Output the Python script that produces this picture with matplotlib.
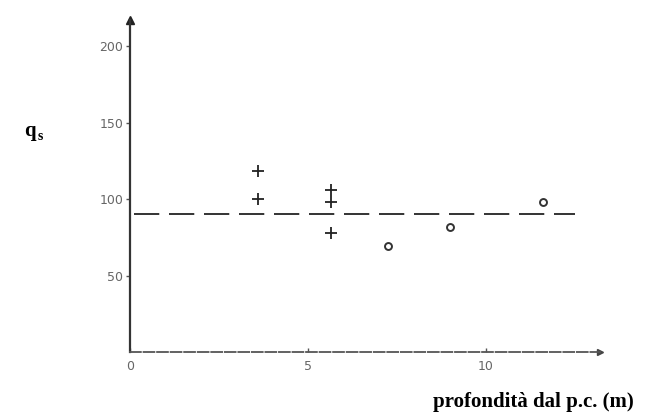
import matplotlib.pyplot as plt

# valori
plus_x = [3.6, 3.6, 5.65, 5.65, 5.65]
plus_y = [118, 100, 106, 98, 78]
circ_x = [7.25, 9.0, 11.6]
circ_y = [69, 82, 98]
mean_q = 90
mean_x = [0.1, 12.5]
yticks = [50, 100, 150, 200]
xticks = [0, 5, 10]

fig = plt.figure(figsize=(6.54, 4.16), dpi=100)
ax = fig.add_axes([130/654, 64/416, 470/654, 332/416])
ax.set_xlim(0, 13.2)
ax.set_ylim(0, 217)

for s in ['top', 'right']:
	ax.spines[s].set_visible(False)
ax.spines['left'].set_color('#333333')
ax.spines['left'].set_linewidth(1.6)
ax.spines['bottom'].set_color('#555555')
ax.spines['bottom'].set_linewidth(1.3)
ax.spines['bottom'].set_linestyle((0, (6, 1.5)))

# frecce sugli assi
ax.plot(0, 1, '^', color='#222222', ms=6, transform=ax.transAxes, clip_on=False)
ax.plot(1, 0, '>', color='#444444', ms=5, transform=ax.transAxes, clip_on=False)

ax.plot(mean_x, [mean_q, mean_q], color='#333333', lw=1.4, dashes=(13, 5))
ax.plot(plus_x, plus_y, '+', color='#222222', ms=8, mew=1.3, linestyle='none')
ax.plot(circ_x, circ_y, 'o', mfc='none', mec='#333333', ms=5, mew=1.4, linestyle='none')

ax.set_yticks(yticks)
ax.set_xticks(xticks)
ax.tick_params(axis='both', length=3, width=1, color='#555555', labelcolor='#666666',
			   labelsize=9, pad=2)
ax.tick_params(axis='x', direction='in', pad=6)

# etichette degli assi
fig.text(30/654, 1 - 131/416, 'q', fontsize=15, fontweight='bold',
		 family='Liberation Serif', ha='center', va='center')
fig.text(40/654, 1 - 137/416, 's', fontsize=10, fontweight='bold',
		 family='Liberation Serif', ha='center', va='center')
fig.text(533/654, 1 - 402/416, 'profondità dal p.c. (m)', fontsize=15, fontweight='bold',
		 family='Liberation Serif', ha='center', va='center')

fig.savefig('out.png', dpi=100)
